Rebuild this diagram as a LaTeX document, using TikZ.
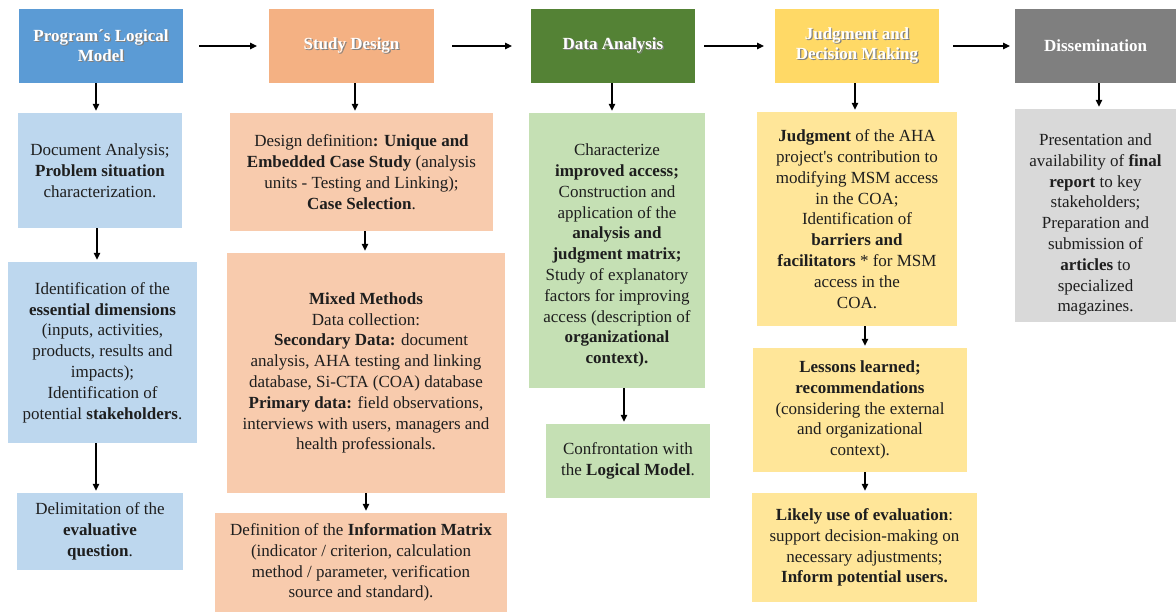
\documentclass[tikz,border=0pt]{standalone}
\usepackage{fontspec}
\setmainfont{Liberation Serif}
\usetikzlibrary{arrows.meta}
\definecolor{hblue}{HTML}{5B9BD5}
\definecolor{horange}{HTML}{F4B183}
\definecolor{hgreen}{HTML}{548235}
\definecolor{hyellow}{HTML}{FFD966}
\definecolor{hgray}{HTML}{7F7F7F}
\definecolor{lblue}{HTML}{BDD7EE}
\definecolor{lorange}{HTML}{F8CBAD}
\definecolor{lgreen}{HTML}{C5E0B4}
\definecolor{lyellow}{HTML}{FFE699}
\definecolor{lgray}{HTML}{D9D9D9}
\definecolor{txt}{HTML}{1E1E1E}
\newcommand{\shd}[1]{\rlap{\raisebox{-1.2pt}{\kern1.2pt\textcolor{black!50}{#1}}}#1}
\tikzset{
  box/.style={rectangle, inner sep=0pt, align=center, text=txt,
    font=\fontsize{17}{20.8}\selectfont},
  head/.style={rectangle, inner sep=0pt, align=center, text=white,
    font=\fontsize{17}{20}\selectfont\bfseries, minimum width=164pt, minimum height=74pt},
  arr/.style={line width=1.2pt, -{Triangle[length=7pt,width=6.5pt]}, shorten >=2pt}
}
\begin{document}
\begin{tikzpicture}[x=1pt,y=-1pt]
\useasboundingbox[fill=white] (0,0) rectangle (1176,615);
% headers
\node[head, fill=hblue] (h1) at (101,46) {\shd{Program´s Logical}\\\shd{Model}};
\node[head, fill=horange, minimum width=165pt] (h2) at (351.5,46) {\shd{Study Design}};
\node[head, fill=hgreen] (h3) at (613,46) {\shd{Data Analysis}};
\node[head, fill=hyellow] (h4) at (857,46) {\shd{Judgment and}\\\shd{Decision Making}};
\node[head, fill=hgray, minimum width=161pt] (h5) at (1095.5,46) {\shd{Dissemination}};
% column 1
\node[box, fill=lblue, minimum width=164pt, minimum height=115pt] (a1) at (100,170.5)
  {Document Analysis;\\\textbf{Problem situation}\\characterization.};
\node[box, fill=lblue, minimum width=189pt, minimum height=181pt] (a2) at (102.5,352.5)
  {Identification of the\\\textbf{essential dimensions}\\(inputs, activities,\\products, results and\\impacts);\\Identification of\\potential \textbf{stakeholders}.};
\node[box, fill=lblue, minimum width=166pt, minimum height=77pt] (a3) at (100,531.5)
  {Delimitation of the\\\textbf{evaluative}\\\textbf{question}.};
% column 2
\node[box, fill=lorange, minimum width=263pt, minimum height=118pt] (b1) at (361.5,172)
  {Design definition\textbf{: Unique and}\\\textbf{Embedded Case Study} (analysis\\units - Testing and Linking);\\\textbf{Case Selection}.};
\node[box, fill=lorange, minimum width=278pt, minimum height=240pt] (b2) at (366,373)
  {\textbf{Mixed Methods}\\Data collection:\\\hspace{0.6em}\textbf{Secondary Data:} document\\analysis, AHA testing and linking\\database, Si-CTA (COA) database\\\textbf{Primary data:} field observations,\\interviews with users, managers and\\health professionals.};
\node[box, fill=lorange, minimum width=292pt, minimum height=99pt] (b3) at (361,562.5)
  {Definition of the \textbf{Information Matrix}\\(indicator / criterion, calculation\\method / parameter, verification\\source and standard).};
% column 3
\node[box, fill=lgreen, minimum width=176pt, minimum height=275pt] (c1) at (617,250.5)
  {\rule{0pt}{22pt}Characterize\\\textbf{improved access;}\\Construction and\\application of the\\\textbf{analysis and}\\\textbf{judgment matrix;}\\Study of explanatory\\factors for improving\\access (description of\\\textbf{organizational}\\\textbf{context).}};
\node[box, fill=lgreen, minimum width=164pt, minimum height=74pt] (c2) at (628,461)
  {Confrontation with\\the \textbf{Logical Model}.};
% column 4
\node[box, fill=lyellow, minimum width=200pt, minimum height=214pt] (d1) at (857,219)
  {\textbf{Judgment} of the AHA\\project\textquotesingle s contribution to\\modifying MSM access\\in the COA;\\Identification of\\\textbf{barriers and}\\\textbf{facilitators} * for MSM\\access in the\\COA.};
\node[box, fill=lyellow, minimum width=214pt, minimum height=124pt] (d2) at (860,410)
  {\textbf{Lessons learned;}\\\textbf{recommendations}\\(considering the external\\and organizational\\context).};
\node[box, fill=lyellow, minimum width=225pt, minimum height=109pt] (d3) at (864.5,547.5)
  {\textbf{Likely use of evaluation}:\\support decision-making on\\necessary adjustments;\\\textbf{Inform potential users.}};
% column 5
\node[box, fill=lgray, minimum width=161pt, minimum height=213pt] (e1) at (1095.5,215.5)
  {\rule{0pt}{30pt}Presentation and\\availability of \textbf{final}\\\textbf{report} to key\\stakeholders;\\Preparation and\\submission of\\\textbf{articles} to\\specialized\\magazines.};
% horizontal arrows
\draw[arr, shorten >=0pt] (h1.east -| 199,0) -- (h2.west -| 257,0);
\draw[arr, shorten >=0pt] (h2.east -| 452,0) -- (h3.west -| 512,0);
\draw[arr, shorten >=0pt] (h3.east -| 704,0) -- (h4.west -| 764,0);
\draw[arr, shorten >=0pt] (h4.east -| 953,0) -- (h5.west -| 1010,0);
% vertical arrows
\draw[arr] (h1.south -| 96,0) -- (a1.north -| 96,0);
\draw[arr] (a1.south -| 97,0) -- (a2.north -| 97,0);
\draw[arr] (a2.south -| 96,0) -- (a3.north -| 96,0);
\draw[arr] (h2.south -| 355,0) -- (b1.north -| 355,0);
\draw[arr] (b1.south -| 365,0) -- (b2.north -| 365,0);
\draw[arr] (b2.south -| 366,0) -- (b3.north -| 366,0);
\draw[arr] (h3.south -| 612,0) -- (c1.north -| 612,0);
\draw[arr] (c1.south -| 624,0) -- (c2.north -| 624,0);
\draw[arr] (h4.south -| 855,0) -- (d1.north -| 855,0);
\draw[arr] (d1.south -| 865,0) -- (d2.north -| 865,0);
\draw[arr] (d2.south -| 865,0) -- (d3.north -| 865,0);
\draw[arr] (h5.south -| 1099,0) -- (e1.north -| 1099,0);
\end{tikzpicture}
\end{document}
